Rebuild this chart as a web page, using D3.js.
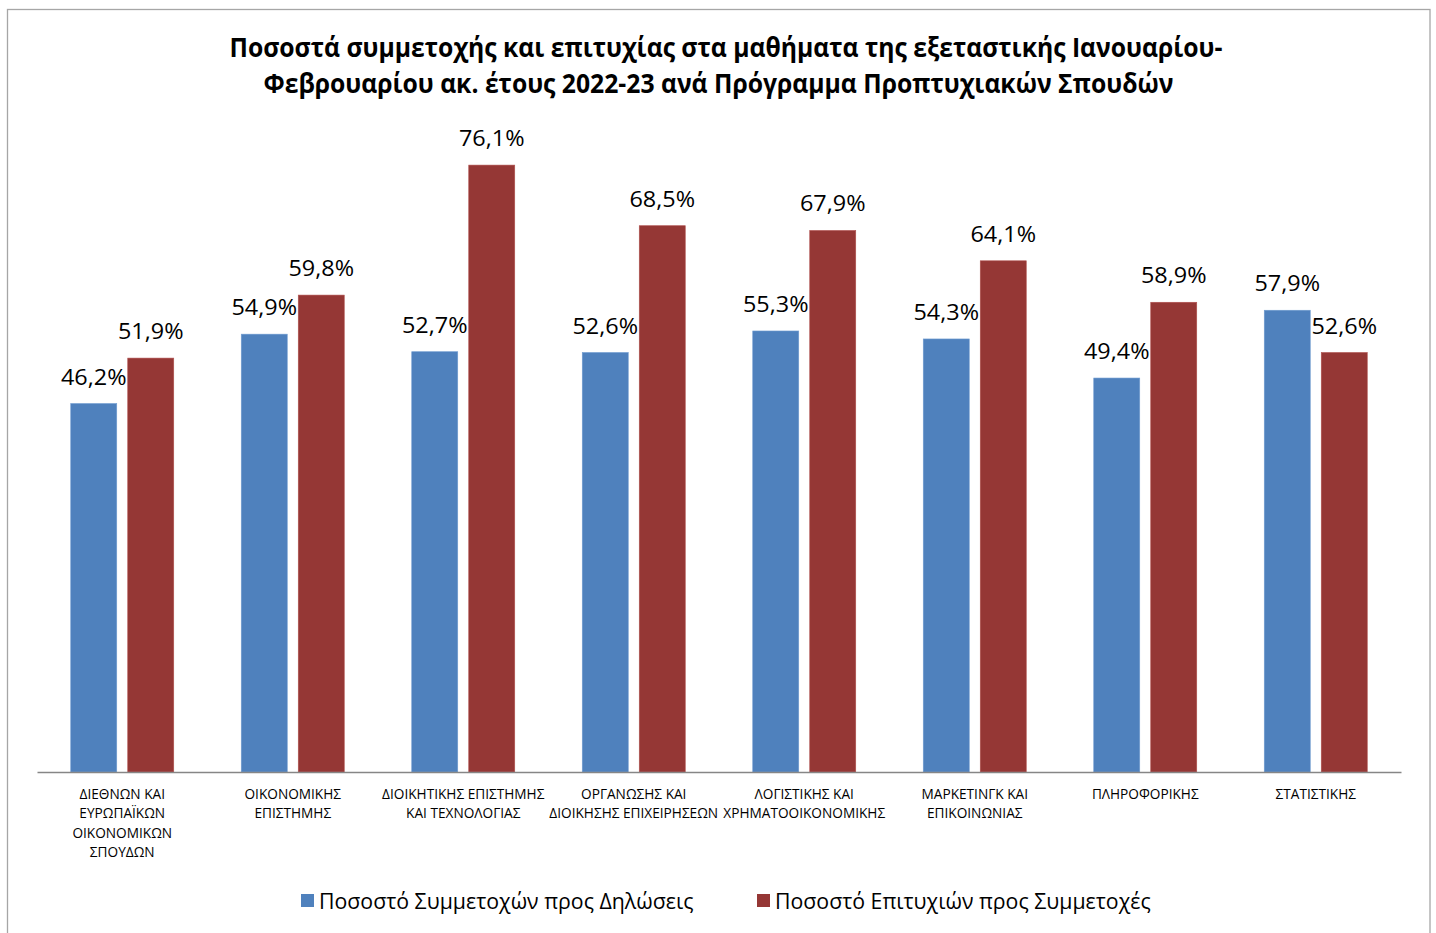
<!DOCTYPE html>
<html><head><meta charset="utf-8">
<script src="https://cdn.jsdelivr.net/npm/d3@7"></script>
<style>
html,body{margin:0;padding:0;background:#fff;}
svg{display:block;font-family:"Open Sans",sans-serif;}
</style></head>
<body>
<svg id="chart" width="1436" height="933"></svg>
<script>
const titleLines = ["Ποσοστά συμμετοχής και επιτυχίας στα μαθήματα της εξεταστικής Ιανουαρίου-",
                    "Φεβρουαρίου ακ. έτους 2022-23 ανά Πρόγραμμα Προπτυχιακών Σπουδών"];
const categories = ["ΔΙΕΘΝΩΝ ΚΑΙ ΕΥΡΩΠΑΪΚΩΝ ΟΙΚΟΝΟΜΙΚΩΝ ΣΠΟΥΔΩΝ","ΟΙΚΟΝΟΜΙΚΗΣ ΕΠΙΣΤΗΜΗΣ",
  "ΔΙΟΙΚΗΤΙΚΗΣ ΕΠΙΣΤΗΜΗΣ ΚΑΙ ΤΕΧΝΟΛΟΓΙΑΣ","ΟΡΓΑΝΩΣΗΣ ΚΑΙ ΔΙΟΙΚΗΣΗΣ ΕΠΙΧΕΙΡΗΣΕΩΝ",
  "ΛΟΓΙΣΤΙΚΗΣ ΚΑΙ ΧΡΗΜΑΤΟΟΙΚΟΝΟΜΙΚΗΣ","ΜΑΡΚΕΤΙΝΓΚ ΚΑΙ ΕΠΙΚΟΙΝΩΝΙΑΣ","ΠΛΗΡΟΦΟΡΙΚΗΣ","ΣΤΑΤΙΣΤΙΚΗΣ"];
const categoryLines = [["ΔΙΕΘΝΩΝ ΚΑΙ","ΕΥΡΩΠΑΪΚΩΝ","ΟΙΚΟΝΟΜΙΚΩΝ","ΣΠΟΥΔΩΝ"],["ΟΙΚΟΝΟΜΙΚΗΣ","ΕΠΙΣΤΗΜΗΣ"],
  ["ΔΙΟΙΚΗΤΙΚΗΣ ΕΠΙΣΤΗΜΗΣ","ΚΑΙ ΤΕΧΝΟΛΟΓΙΑΣ"],["ΟΡΓΑΝΩΣΗΣ ΚΑΙ","ΔΙΟΙΚΗΣΗΣ ΕΠΙΧΕΙΡΗΣΕΩΝ"],
  ["ΛΟΓΙΣΤΙΚΗΣ ΚΑΙ","ΧΡΗΜΑΤΟΟΙΚΟΝΟΜΙΚΗΣ"],["ΜΑΡΚΕΤΙΝΓΚ ΚΑΙ","ΕΠΙΚΟΙΝΩΝΙΑΣ"],["ΠΛΗΡΟΦΟΡΙΚΗΣ"],["ΣΤΑΤΙΣΤΙΚΗΣ"]];
const seriesNames = ["Ποσοστό Συμμετοχών προς Δηλώσεις","Ποσοστό Επιτυχιών προς Συμμετοχές"];
const participation = [46.2,54.9,52.7,52.6,55.3,54.3,49.4,57.9];
const success = [51.9,59.8,76.1,68.5,67.9,64.1,58.9,52.6];
const colors = ["#4F81BD","#953735"];

const svg = d3.select("#chart");
const plot = {left:37, right:1401, top:134, bottom:772};

svg.append("rect").attr("x",7.5).attr("y",9.5).attr("width",1422.5).attr("height",940)
  .attr("fill","#fff").attr("stroke","#A6A6A6").attr("stroke-width",1.3);

function condense(sel, f){
  sel.each(function(){
    const len = this.getComputedTextLength();
    d3.select(this).attr("textLength", len*f).attr("lengthAdjust","spacingAndGlyphs");
  });
}

// Title
const titleX = [726, 718.5];
svg.append("g").selectAll("text").data(titleLines).join("text")
  .attr("x",(d,i)=>titleX[i]).attr("y",(d,i)=>57+i*36).attr("text-anchor","middle")
  .attr("font-size",26).attr("font-weight","bold").attr("fill","#000").text(d=>d)
  .call(condense,0.95);

const x = d3.scaleBand().domain(categories).range([plot.left, plot.right]).paddingInner(0).paddingOuter(0);
const xi = d3.scaleBand().domain([0,1]).range([-51.5,51.5]).paddingInner(0.193).paddingOuter(0);
const y = d3.scaleLinear().domain([0,80]).range([plot.bottom, plot.top]);

const data = categories.map((c,i)=>({c, vals:[participation[i], success[i]], lines:categoryLines[i]}));

const groups = svg.append("g").selectAll("g").data(data).join("g")
  .attr("transform",d=>`translate(${x(d.c)+x.bandwidth()/2},0)`);

groups.selectAll("rect").data(d=>d.vals.map((v,k)=>({v,k}))).join("rect")
  .attr("x",d=>xi(d.k)).attr("width",xi.bandwidth())
  .attr("y",d=>y(d.v)).attr("height",d=>y(0)-y(d.v))
  .attr("fill",d=>colors[d.k])
  .attr("stroke",d=>d.k===0?"#6f9bd0":"#b0504e").attr("stroke-width",0.6);

groups.selectAll("text.val").data(d=>d.vals.map((v,k)=>({v,k}))).join("text")
  .attr("class","val")
  .attr("x",d=>xi(d.k)+xi.bandwidth()/2).attr("y",d=>y(d.v)-19)
  .attr("text-anchor","middle").attr("font-size",22.5).attr("fill","#000")
  .text(d=>d3.format(".1f")(d.v).replace(".",",")+"%")
  .call(condense,1.04);

// axis
const xAxis = d3.axisBottom(x).tickSize(0).tickFormat("");
const ax = svg.append("g").attr("transform",`translate(0,${plot.bottom})`).call(xAxis);
ax.select(".domain").attr("stroke","#868686").attr("stroke-width",1.3);

groups.append("text").attr("font-size",14).attr("fill","#000").attr("text-anchor","middle")
  .selectAll("tspan").data(d=>d.lines).join("tspan")
  .attr("x",0).attr("y",(d,i)=>799+i*19.3).text(d=>d);
groups.selectAll("tspan").call(condense,0.975);

// legend
const leg = svg.append("g");
const legX = [301,757];
seriesNames.forEach((n,k)=>{
  leg.append("rect").attr("x",legX[k]).attr("y",894).attr("width",13).attr("height",13).attr("fill",colors[k]);
  leg.append("text").attr("x",legX[k]+18).attr("y",909).attr("font-size",22).attr("fill","#000").text(n)
    .call(condense,0.968);
});
</script>
</body></html>
